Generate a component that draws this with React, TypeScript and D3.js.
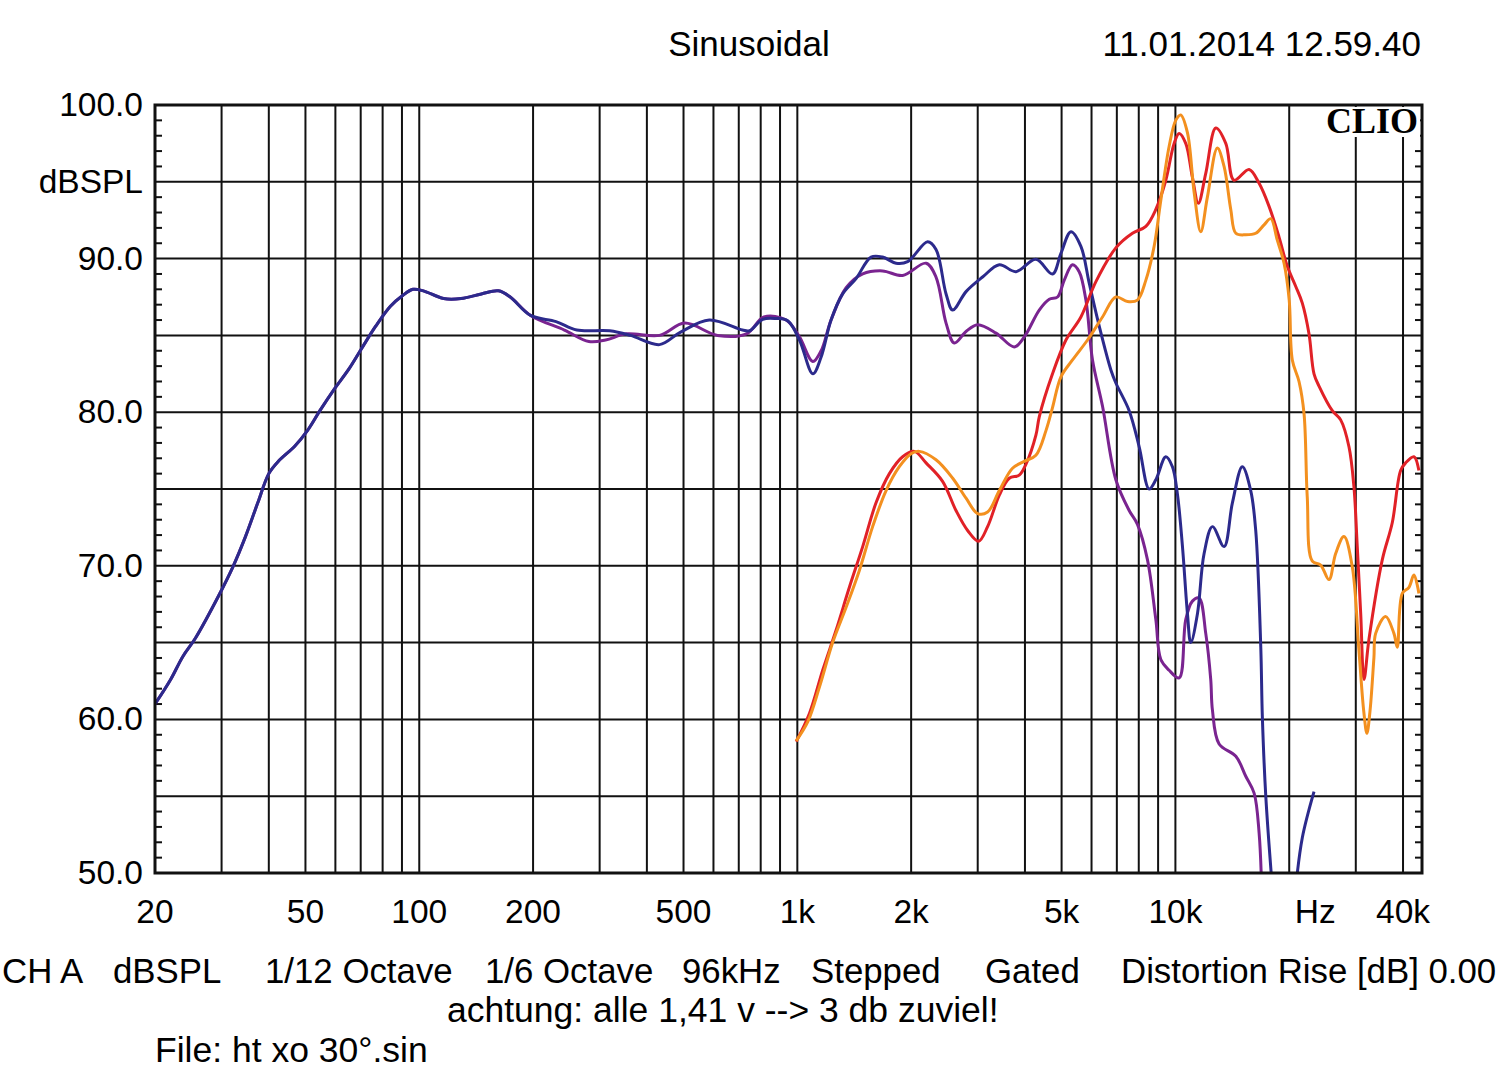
import React from "react";
import * as d3 from "d3";

const width = 1500;
const height = 1086;
const plot = { left: 155, top: 105, right: 1422, bottom: 873 };

// readings, [Hz, dB SPL]
const commonLow: [number, number][] = [
  [20, 61.0], [22, 62.6], [23.7, 64.1], [25.6, 65.3], [29.4, 68.0], [32.1, 69.9],
  [34.7, 71.9], [37.4, 74.1], [40, 76.0], [42.4, 76.8], [46.9, 77.8], [50.6, 78.8],
  [54.6, 80.1], [59.6, 81.5], [65.1, 82.8], [70.2, 84.1], [76.7, 85.6], [83.9, 86.9],
  [90.4, 87.6], [96.3, 88.0], [102.5, 87.9], [116, 87.4], [129, 87.4], [146, 87.7],
  [162, 87.9], [174, 87.5], [197, 86.3]
];

const blueMid: [number, number][] = [
  [230, 85.9], [261, 85.35], [319, 85.3], [362, 85.0], [432, 84.4], [490, 85.2],
  [585, 86.0], [716, 85.35], [747, 85.3], [810, 86.05], [879, 86.1], [943, 85.95],
  [1013, 84.7], [1099, 82.5], [1156, 83.6], [1228, 86.0], [1318, 87.7], [1430, 88.7],
  [1567, 90.1], [1681, 90.1], [1825, 89.7], [1958, 89.8], [2211, 91.1], [2327, 90.6],
  [2474, 87.7], [2576, 86.65], [2794, 87.85], [3090, 88.8], [3422, 89.6], [3786, 89.15],
  [4276, 89.95], [4731, 89.0], [4980, 90.35], [5293, 91.75], [5624, 90.8], [5916, 88.4],
  [6288, 85.6], [6751, 82.75], [6958, 81.9], [7546, 80.1], [8020, 77.75], [8522, 75.0],
  [8876, 75.6], [9432, 77.1], [9820, 76.45], [10120, 74.7], [10440, 71.25], [10760, 66.9],
  [10980, 65.0], [11440, 66.9], [11910, 70.8], [12530, 72.55], [13450, 71.25], [14150, 74.1],
  [15030, 76.45], [15820, 74.9], [16310, 72.3], [16820, 64.7], [16980, 60.2], [17340, 55.0],
  [18050, 49.0]
];

const blueTail: [number, number][] = [
  [20800, 49.0], [21660, 52.3], [23260, 55.3]
];

const purpleMid: [number, number][] = [
  [242, 85.35], [281, 84.6], [311, 84.7], [353, 85.1], [432, 85.0], [503, 85.8],
  [615, 85.0], [734, 85.1], [816, 86.2], [934, 86.0], [1013, 84.9], [1099, 83.3],
  [1156, 84.0], [1228, 86.0], [1346, 88.1], [1489, 89.0], [1681, 89.2], [1899, 88.9],
  [2190, 89.7], [2327, 88.8], [2474, 85.8], [2602, 84.5], [2794, 85.25], [2998, 85.7],
  [3354, 85.15], [3748, 84.25], [3983, 84.9], [4364, 86.65], [4638, 87.35], [4878, 87.5],
  [5082, 88.6], [5343, 89.6], [5565, 89.15], [5798, 87.3], [6036, 83.4], [6414, 80.4],
  [6958, 75.6], [7546, 73.6], [7936, 72.7], [8434, 70.4], [8876, 66.5], [9150, 63.9],
  [9624, 63.2], [10230, 62.7], [10650, 66.5], [11090, 67.7], [11550, 67.9], [12030, 65.6],
  [12400, 62.6], [12530, 60.6], [13050, 58.4], [14450, 57.6], [15350, 56.3], [16150, 55.2],
  [16650, 52.6], [16910, 49.0]
];

const redCurve: [number, number][] = [
  [993, 58.55], [1077, 60.4], [1167, 63.2], [1266, 65.8], [1373, 68.6], [1489, 71.25],
  [1615, 74.1], [1752, 76.0], [1899, 77.1], [2039, 77.45], [2190, 76.7], [2422, 75.5],
  [2628, 73.6], [2821, 72.3], [3017, 71.6], [3186, 72.55], [3422, 74.6], [3635, 75.7],
  [3863, 75.9], [4023, 76.6], [4276, 78.5], [4364, 79.7], [4731, 82.5], [5134, 84.7],
  [5624, 86.2], [6162, 88.5], [6958, 90.7], [7698, 91.65], [8354, 92.1], [8876, 93.2],
  [9432, 95.1], [9922, 97.5], [10230, 98.15], [10650, 97.5], [11090, 95.3], [11500, 93.6],
  [12030, 95.55], [12790, 98.5], [13590, 97.5], [14290, 95.1], [15660, 95.8], [16650, 94.9],
  [17690, 93.4], [18800, 91.4], [19770, 89.5], [20800, 88.2], [21660, 87.1], [22560, 85.1],
  [23260, 82.5], [23980, 81.7], [26000, 80.1], [27360, 79.5], [28780, 77.75], [29660, 75.15],
  [30270, 71.25], [30910, 66.9], [31540, 62.6], [32500, 65.2], [35260, 70.4], [37460, 72.8],
  [39420, 76.2], [40640, 76.7], [42740, 77.1], [44060, 76.2]
];

const orangeCurve: [number, number][] = [
  [993, 58.6], [1066, 59.85], [1144, 62.1], [1240, 65.0], [1346, 67.3], [1459, 69.7],
  [1582, 72.55], [1717, 74.9], [1861, 76.45], [1999, 77.3], [2102, 77.45], [2327, 76.9],
  [2576, 75.7], [2794, 74.4], [2998, 73.4], [3186, 73.5], [3422, 74.9], [3708, 76.35],
  [3983, 76.8], [4276, 77.2], [4546, 78.8], [4731, 80.3], [4980, 82.3], [5343, 83.4],
  [5855, 84.7], [6414, 86.2], [6958, 87.5], [7470, 87.2], [7936, 87.3], [8354, 88.6],
  [8785, 90.8], [9150, 93.8], [9624, 97.3], [10020, 99.0], [10330, 99.35], [10760, 98.2],
  [11210, 94.3], [11670, 91.75], [12150, 94.0], [12910, 97.2], [13450, 96.0], [14010, 93.2],
  [14450, 91.65], [15350, 91.55], [16310, 91.65], [17160, 92.2], [17870, 92.6], [18600, 91.2],
  [19380, 89.7], [20000, 87.3], [20380, 83.4], [21230, 82.0], [21890, 79.9], [22320, 74.5],
  [23020, 70.3], [24220, 70.05], [25480, 69.1], [26540, 70.8], [27920, 71.9], [29360, 69.95],
  [30580, 64.5], [31500, 60.5], [32100, 59.1], [32700, 60.5], [33500, 64.0], [33860, 65.6],
  [35980, 66.7], [37840, 65.6], [38620, 64.7], [39820, 68.2], [41480, 68.6], [42740, 69.4],
  [44060, 68.2]
];

const series = [
  { name: "purple", color: "#7a2490", segments: [commonLow.concat(purpleMid)] },
  { name: "blue", color: "#2c2a8c", segments: [commonLow.concat(blueMid), blueTail] },
  { name: "red", color: "#e12127", segments: [redCurve] },
  { name: "orange", color: "#f3901f", segments: [orangeCurve] }
];

const xTickValues = [20, 50, 100, 200, 500, 1000, 2000, 5000, 10000, 20000, 40000];
const xTickText = ["20", "50", "100", "200", "500", "1k", "2k", "5k", "10k", "Hz", "40k"];
const yTickValues = [100, 95, 90, 80, 70, 60, 50];
const yTickText = ["100.0", "dBSPL", "90.0", "80.0", "70.0", "60.0", "50.0"];

const footerText = ["CH A", "dBSPL", "1/12 Octave", "1/6 Octave", "96kHz", "Stepped", "Gated", "Distortion Rise [dB] 0.00"];
const footerX = [2, 113, 265, 485, 682, 811, 985, 1121];

const font = "'Liberation Sans', Arial, sans-serif";

export default function App() {
  const x = d3.scaleLog().domain([20, 44900]).range([plot.left, plot.right]);
  const y = d3.scaleLinear().domain([50, 100]).range([plot.bottom, plot.top]);

  const line = d3
    .line<[number, number]>()
    .x(d => x(d[0]))
    .y(d => y(d[1]))
    .curve(d3.curveCatmullRom.alpha(0.5));

  const vGrid = x.ticks().filter(f => f > 20);
  const hGrid = d3.range(55, 100, 5);
  const minor = d3.range(51, 100, 1).filter(v => v % 5 !== 0);

  return (
    <svg
      width={width}
      height={height}
      style={{ position: "absolute", left: 0, top: 0, background: "#fff" }}
      fontFamily={font}
    >
      <defs>
        <clipPath id="plotClip">
          <rect x={plot.left} y={plot.top} width={plot.right - plot.left} height={plot.bottom - plot.top} />
        </clipPath>
      </defs>
      <rect width={width} height={height} fill="#fff" />

      <text x={749} y={56} fontSize={35} textAnchor="middle">Sinusoidal</text>
      <text x={1421} y={56} fontSize={35} textAnchor="end">11.01.2014 12.59.40</text>

      {/* grid */}
      <g stroke="#111" strokeWidth={2}>
        {vGrid.map(f => (
          <line key={f} x1={x(f)} x2={x(f)} y1={plot.top} y2={plot.bottom} />
        ))}
        {hGrid.map(v => (
          <line key={v} x1={plot.left} x2={plot.right} y1={y(v)} y2={y(v)} />
        ))}
        {minor.map(v => (
          <g key={v}>
            <line x1={plot.left} x2={plot.left + 7} y1={y(v)} y2={y(v)} />
            <line x1={plot.right - 7} x2={plot.right} y1={y(v)} y2={y(v)} />
          </g>
        ))}
      </g>

      {/* CLIO badge */}
      <rect x={1322} y={plot.top + 2} width={98} height={30} fill="#fff" />
      <text x={1418} y={133} fontSize={36} fontWeight="bold" textAnchor="end" fontFamily="'Liberation Serif', 'Times New Roman', serif">
        CLIO
      </text>

      {/* curves */}
      <g clipPath="url(#plotClip)" fill="none" strokeWidth={3} strokeLinejoin="round">
        {series.map(s =>
          s.segments.map((seg, i) => (
            <path key={s.name + i} d={line(seg) || ""} stroke={s.color} />
          ))
        )}
      </g>

      <rect
        x={plot.left}
        y={plot.top}
        width={plot.right - plot.left}
        height={plot.bottom - plot.top}
        fill="none"
        stroke="#111"
        strokeWidth={3}
      />

      {/* axis labels */}
      {yTickValues.map((v, i) => (
        <text key={v} x={143} y={y(v) + 11} fontSize={33.5} textAnchor="end">
          {yTickText[i]}
        </text>
      ))}
      {xTickValues.map((f, i) => (
        <text
          key={f}
          x={xTickText[i] === "Hz" ? x(f) + 26 : x(f)}
          y={923}
          fontSize={33.5}
          textAnchor="middle"
        >
          {xTickText[i]}
        </text>
      ))}

      {/* footer */}
      {footerText.map((t, i) => (
        <text key={t} x={footerX[i]} y={983} fontSize={34.8}>{t}</text>
      ))}
      <text x={447} y={1022} fontSize={35.5}>achtung: alle 1,41 v --&gt; 3 db zuviel!</text>
      <text x={155} y={1062} fontSize={35.5}>File: ht xo 30°.sin</text>
    </svg>
  );
}
